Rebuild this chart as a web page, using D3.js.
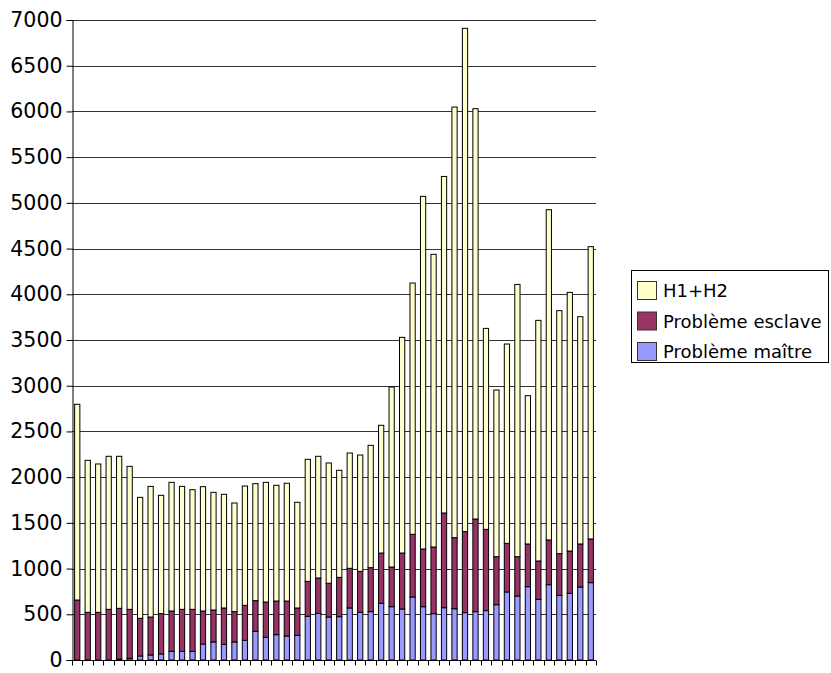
<!DOCTYPE html>
<html><head><meta charset="utf-8">
<script src="https://cdn.jsdelivr.net/npm/d3@7"></script>
<style>body{margin:0;background:#fff}svg{display:block}</style>
</head><body>
<script>
const categories = d3.range(1, 51).map(String);
const seriesNames = ["Problème maître", "Problème esclave", "H1+H2"];
const maitre = [0,0,0,0,10,18,44,55,66,95,95,95,175,197,171,197,215,314,248,277,262,270,478,510,470,474,569,521,529,620,583,558,689,583,507,572,561,518,529,540,605,744,700,802,663,824,707,729,798,846];
const esclave = [656,521,521,554,555,536,412,415,441,441,459,459,361,350,398,332,383,335,386,368,383,299,382,387,369,430,434,449,481,550,434,612,686,631,729,1036,777,886,1013,889,525,532,430,467,420,489,456,463,471,478];
const h1h2 = [2141,1663,1623,1674,1663,1564,1323,1429,1294,1407,1345,1309,1360,1287,1243,1188,1305,1280,1309,1266,1288,1156,1335,1331,1316,1171,1261,1272,1338,1397,1969,2359,2748,3857,3201,3681,4710,5505,4488,2198,1823,2180,2978,1622,2632,3612,2658,2829,2486,3197];
const yTicks = d3.range(0, 7001, 500);
const colors = ["#9999FF", "#993366", "#FFFFCC"];

const W = 831, H = 673;
const mLeft = 72, mRight = 596, mTop = 20, mBottom = 660;

const rows = categories.map((c, i) => ({cat: c, "Problème maître": maitre[i], "Problème esclave": esclave[i], "H1+H2": h1h2[i]}));
const stack = d3.stack().keys(seriesNames)(rows);

const x = d3.scaleBand().domain(categories).range([mLeft, mRight]).paddingInner(0.5).paddingOuter(0.25);
const y = d3.scaleLinear().domain([0, 7000]).range([mBottom, mTop]);

const svg = d3.select("body").append("svg").attr("width", W).attr("height", H);

// gridlines
svg.append("g").selectAll("line").data(yTicks.filter(t => t > 0)).join("line")
  .attr("x1", mLeft).attr("x2", mRight)
  .attr("y1", d => Math.round(y(d)) + 0.5).attr("y2", d => Math.round(y(d)) + 0.5)
  .attr("stroke", "#333").attr("stroke-width", 1);

// bars
svg.append("g").selectAll("g").data(stack).join("g")
  .attr("fill", (d, i) => colors[i])
  .selectAll("rect").data(d => d).join("rect")
  .attr("x", d => x(d.data.cat))
  .attr("width", x.bandwidth())
  .attr("y", d => y(d[1]))
  .attr("height", d => Math.max(0, y(d[0]) - y(d[1])))
  .attr("stroke", "#000").attr("stroke-width", 1);

// y axis
const yAxis = d3.axisLeft(y).tickValues(yTicks).tickSize(6).tickPadding(4).tickFormat(d3.format("d"));
const gy = svg.append("g").attr("transform", `translate(${mLeft + 0.5},0)`).call(yAxis);
gy.select(".domain").attr("stroke", "#000");
gy.selectAll("text").attr("font-family", "DejaVu Sans").attr("font-size", 20.5).attr("fill", "#000");

// x axis with ticks at band boundaries
const gx = svg.append("g").attr("transform", `translate(0,${mBottom + 0.5})`);
gx.append("line").attr("x1", mLeft).attr("x2", mRight).attr("stroke", "#000");
const step = x.step();
const bounds = d3.range(categories.length + 1).map(i => x(categories[0]) - x.paddingOuter() * step + i * step);
gx.selectAll("line.t").data(bounds).join("line").attr("class", "t")
  .attr("x1", d => Math.round(d) + 0.5).attr("x2", d => Math.round(d) + 0.5)
  .attr("y1", 0).attr("y2", 5).attr("stroke", "#000");

// legend
const lg = svg.append("g");
lg.append("rect").attr("x", 631.5).attr("y", 270.5).attr("width", 197).attr("height", 92)
  .attr("fill", "#fff").attr("stroke", "#000");
const legendItems = ["H1+H2", "Problème esclave", "Problème maître"];
const legendColors = [colors[2], colors[1], colors[0]];
legendItems.forEach((name, i) => {
  const yy = 281 + i * 30.5;
  lg.append("rect").attr("x", 637.5).attr("y", yy + 0.5).attr("width", 19).attr("height", 18)
    .attr("fill", legendColors[i]).attr("stroke", "#333");
  lg.append("text").attr("x", 663).attr("y", yy + 16).attr("font-family", "DejaVu Sans")
    .attr("font-size", 18).attr("fill", "#000").text(name);
});
</script>
</body></html>
